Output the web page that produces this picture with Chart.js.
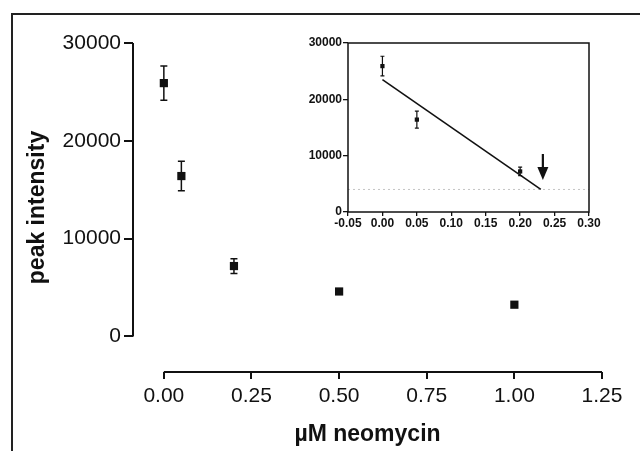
<!DOCTYPE html>
<html>
<head>
<meta charset="utf-8">
<script src="https://cdn.jsdelivr.net/npm/chart.js@4.4.1/dist/chart.umd.min.js"></script>
<style>
body { margin: 0; background: #fff; }
#wrap { position: relative; width: 640px; height: 451px; overflow: hidden; }
#frame { position: absolute; left: 11px; top: 13px; width: 640px; height: 460px; border-top: 2px solid #222; border-left: 2px solid #222; }
#main { position: absolute; left: 0; top: 0; }
#inset { position: absolute; left: 290px; top: 30px; }
</style>
</head>
<body>
<div id="wrap">
  <div id="frame"></div>
  <canvas id="main" width="640" height="451"></canvas>
  <canvas id="inset" width="320" height="200"></canvas>
</div>
<script>
var concentration = [0, 0.05, 0.2, 0.5, 1.0];
var intensity = [25900, 16400, 7200, 4600, 3250];
var errors = [1750, 1500, 750, 0, 0];

var mainXTicks = [0, 0.25, 0.5, 0.75, 1.0, 1.25];
var mainYTicks = [0, 10000, 20000, 30000];

// inset: first three points, linear fit down to the background level
var insetCount = 3;
var fitX = [0, 0.23];
var fitY = [23500, 4000];
var baselineX = [-0.05, 0.30];
var baselineY = [4000, 4000];
var arrowX = 0.233;
var arrowY = [10300, 5700];
var insetXTicks = [-0.05, 0, 0.05, 0.10, 0.15, 0.20, 0.25, 0.30];
var insetYTicks = [0, 10000, 20000, 30000];

var FONT = '"Liberation Sans", Arial, Helvetica, sans-serif';
var INK = '#111';

function toPoints(n) {
    var pts = [];
    for (var i = 0; i < n; i++) {
        pts.push({x: concentration[i], y: intensity[i], err: errors[i]});
    }
    return pts;
}

function errorBarPlugin(capHalf, width) {
    return {
        id: 'errorBars',
        beforeDatasetsDraw: function (chart) {
            var ctx = chart.ctx, xs = chart.scales.x, ys = chart.scales.y;
            ctx.save();
            ctx.strokeStyle = INK;
            ctx.lineWidth = width;
            chart.data.datasets[0].data.forEach(function (p) {
                if (!p.err) return;
                var px = xs.getPixelForValue(p.x);
                var top = ys.getPixelForValue(p.y + p.err);
                var bot = ys.getPixelForValue(p.y - p.err);
                ctx.beginPath();
                ctx.moveTo(px, top); ctx.lineTo(px, bot);
                ctx.moveTo(px - capHalf, top); ctx.lineTo(px + capHalf, top);
                ctx.moveTo(px - capHalf, bot); ctx.lineTo(px + capHalf, bot);
                ctx.stroke();
            });
            ctx.restore();
        }
    };
}

// prism-style detached axes
var mainAxes = {
    id: 'mainAxes',
    afterDraw: function (chart) {
        var ctx = chart.ctx, xs = chart.scales.x, ys = chart.scales.y, a = chart.chartArea;
        ctx.save();
        ctx.strokeStyle = INK;
        ctx.lineWidth = 2;
        ctx.beginPath();
        ctx.moveTo(a.left, ys.getPixelForValue(mainYTicks[0]));
        ctx.lineTo(a.left, ys.getPixelForValue(mainYTicks[mainYTicks.length - 1]));
        ctx.moveTo(xs.getPixelForValue(mainXTicks[0]), a.bottom);
        ctx.lineTo(xs.getPixelForValue(mainXTicks[mainXTicks.length - 1]), a.bottom);
        ctx.stroke();
        ctx.restore();
    }
};

var insetDecor = {
    id: 'insetDecor',
    afterDraw: function (chart) {
        var ctx = chart.ctx, xs = chart.scales.x, ys = chart.scales.y, a = chart.chartArea;
        ctx.save();
        ctx.strokeStyle = INK;
        ctx.lineWidth = 1.5;
        ctx.strokeRect(a.left, a.top, a.right - a.left, a.bottom - a.top);
        // arrow marking the intercept
        var ax = xs.getPixelForValue(arrowX);
        var top = ys.getPixelForValue(arrowY[0]);
        var tip = ys.getPixelForValue(arrowY[1]);
        ctx.lineWidth = 2.2;
        ctx.beginPath();
        ctx.moveTo(ax, top);
        ctx.lineTo(ax, tip - 8);
        ctx.stroke();
        ctx.fillStyle = INK;
        ctx.beginPath();
        ctx.moveTo(ax - 5.5, tip - 13);
        ctx.lineTo(ax + 5.5, tip - 13);
        ctx.lineTo(ax, tip);
        ctx.closePath();
        ctx.fill();
        ctx.restore();
    }
};

new Chart(document.getElementById('main'), {
    type: 'scatter',
    data: {
        datasets: [{
            data: toPoints(concentration.length),
            pointStyle: 'rect',
            pointRadius: 5.8,
            backgroundColor: INK,
            borderColor: INK,
            borderWidth: 0
        }]
    },
    options: {
        responsive: false,
        animation: false,
        layout: {padding: {top: 43, right: 38, left: 0, bottom: 0}},
        plugins: {legend: {display: false}, tooltip: {enabled: false}},
        scales: {
            x: {
                type: 'linear',
                min: -0.088,
                max: 1.25,
                afterBuildTicks: function (s) {
                    s.ticks = mainXTicks.map(function (v) { return {value: v}; });
                },
                afterFit: function (s) { s.height = 79; },
                border: {display: false},
                grid: {drawOnChartArea: false, drawTicks: true, tickLength: 7, color: INK, lineWidth: 2},
                ticks: {
                    color: INK, autoSkip: false, maxRotation: 0, padding: 5,
                    font: {family: FONT, size: 21},
                    callback: function (v) { return Number(v).toFixed(2); }
                },
                title: {
                    display: true, text: 'µM neomycin', color: INK,
                    font: {family: FONT, size: 23, weight: 'bold'},
                    padding: {top: 0, bottom: 3}
                }
            },
            y: {
                min: -3630,
                max: 30000,
                afterBuildTicks: function (s) {
                    s.ticks = mainYTicks.map(function (v) { return {value: v}; });
                },
                afterFit: function (s) { s.width = 133; },
                border: {display: false},
                grid: {drawOnChartArea: false, drawTicks: true, tickLength: 9, color: INK, lineWidth: 2},
                ticks: {
                    color: INK, autoSkip: false, padding: 3,
                    font: {family: FONT, size: 21},
                    callback: function (v) { return String(v); }
                },
                title: {
                    display: true, text: 'peak intensity', color: INK,
                    font: {family: FONT, size: 23, weight: 'bold'},
                    padding: {top: 24, bottom: 0}
                }
            }
        }
    },
    plugins: [errorBarPlugin(3.5, 1.5), mainAxes]
});

new Chart(document.getElementById('inset'), {
    type: 'scatter',
    data: {
        datasets: [{
            data: toPoints(insetCount),
            pointStyle: 'rect',
            pointRadius: 3,
            backgroundColor: INK,
            borderColor: INK,
            borderWidth: 0
        }, {
            type: 'line',
            data: fitX.map(function (x, i) { return {x: x, y: fitY[i]}; }),
            borderColor: INK,
            borderWidth: 1.6,
            pointRadius: 0,
            fill: false
        }, {
            type: 'line',
            data: baselineX.map(function (x, i) { return {x: x, y: baselineY[i]}; }),
            borderColor: '#c4c4c4',
            borderWidth: 1,
            borderDash: [2, 3],
            pointRadius: 0,
            fill: false
        }]
    },
    options: {
        responsive: false,
        animation: false,
        layout: {padding: {top: 13, right: 21, left: 0, bottom: 0}},
        plugins: {legend: {display: false}, tooltip: {enabled: false}},
        scales: {
            x: {
                type: 'linear',
                min: -0.05,
                max: 0.30,
                afterBuildTicks: function (s) {
                    s.ticks = insetXTicks.map(function (v) { return {value: v}; });
                },
                afterFit: function (s) { s.height = 18; },
                border: {display: false},
                grid: {drawOnChartArea: false, drawTicks: true, tickLength: 4, color: INK, lineWidth: 1.3},
                ticks: {
                    color: INK, autoSkip: false, maxRotation: 0, padding: 0,
                    font: {family: FONT, size: 12, weight: 'bold'},
                    callback: function (v) { return Number(v).toFixed(2); }
                }
            },
            y: {
                min: 0,
                max: 30000,
                afterBuildTicks: function (s) {
                    s.ticks = insetYTicks.map(function (v) { return {value: v}; });
                },
                afterFit: function (s) { s.width = 58; },
                border: {display: false},
                grid: {drawOnChartArea: false, drawTicks: true, tickLength: 5, color: INK, lineWidth: 1.3},
                ticks: {
                    color: INK, autoSkip: false, padding: 1,
                    font: {family: FONT, size: 12, weight: 'bold'},
                    callback: function (v) { return String(v); }
                }
            }
        }
    },
    plugins: [errorBarPlugin(2, 1.2), insetDecor]
});
</script>
</body>
</html>
